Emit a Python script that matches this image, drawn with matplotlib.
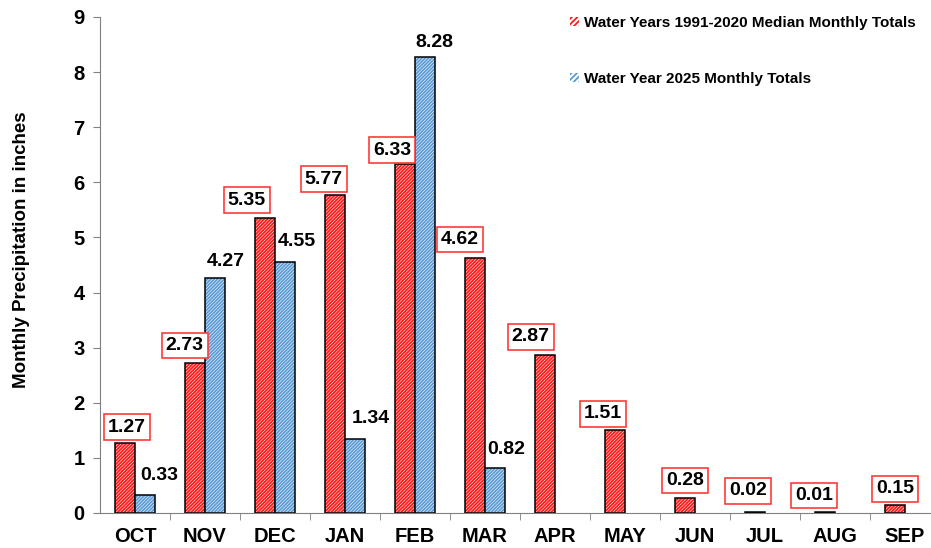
import matplotlib
matplotlib.use("Agg")
import matplotlib.pyplot as plt
import matplotlib.patches as mpatches
import numpy as np

plt.rcParams['font.family'] = ['Liberation Sans', 'DejaVu Sans']
plt.rcParams['font.weight'] = 'bold'
plt.rcParams['hatch.linewidth'] = 1.3

months = ['OCT', 'NOV', 'DEC', 'JAN', 'FEB', 'MAR', 'APR', 'MAY', 'JUN', 'JUL', 'AUG', 'SEP']
median_vals = [1.27, 2.73, 5.35, 5.77, 6.33, 4.62, 2.87, 1.51, 0.28, 0.02, 0.01, 0.15]
wy2025_vals = [0.33, 4.27, 4.55, 1.34, 8.28, 0.82]

median_label = 'Water Years 1991-2020 Median Monthly Totals'
wy2025_label = 'Water Year 2025 Monthly Totals'

# label offsets (pixels) from top of each bar
med_off = [(2, 16), (-10, 17), (-18, 18), (-11, 16), (-13, 14), (-15, 19),
           (-14, 18), (-12, 16), (0, 17), (-7, 21), (-11, 17), (0, 16)]
wy_off = [(14, 19), (11, 16), (12, 21), (16, 21), (9, 14), (11, 18)]

red = '#ff1a1a'
blue = '#5b9bd5'
w = 0.29
hatch = '//////////'

fig = plt.figure(figsize=(9.31, 5.48), dpi=100)
ax = fig.add_axes([100/931, 35/548, 840/931, 496/548])

x = np.arange(len(months))
x2 = np.arange(len(wy2025_vals))

ax.bar(x - w/2, median_vals, w, color='white', edgecolor=red, hatch=hatch, linewidth=0)
ax.bar(x - w/2, median_vals, w, fill=False, edgecolor='black', linewidth=1.1)
ax.bar(x2 + w/2, wy2025_vals, w, color='white', edgecolor=blue, hatch=hatch, linewidth=0)
ax.bar(x2 + w/2, wy2025_vals, w, fill=False, edgecolor='black', linewidth=1.1)

for i, v in enumerate(median_vals):
    ax.annotate(f'{v:.2f}', (x[i] - w/2, v), xytext=med_off[i], textcoords='offset pixels',
                ha='center', va='center', fontsize=14, fontweight='bold',
                bbox=dict(boxstyle='square,pad=0.22', fc='white', ec='#ff3b3b', lw=1.2))
for i, v in enumerate(wy2025_vals):
    ax.annotate(f'{v:.2f}', (x2[i] + w/2, v), xytext=wy_off[i], textcoords='offset pixels',
                ha='center', va='center', fontsize=14, fontweight='bold')

ax.set_xlim(-0.5, len(months) - 0.5)
ax.set_ylim(0, 9)
ax.set_yticks(range(0, 10))
ax.set_xticks(x)
ax.set_xticklabels(months)
ax.set_xticks(np.arange(0.5, len(months), 1), minor=True)
ax.tick_params(axis='x', which='major', length=0, pad=10, labelsize=14.5)
ax.tick_params(axis='x', which='minor', length=5, color='#808080', direction='out')
ax.tick_params(axis='y', length=5, color='#808080', labelsize=14.5, pad=6)
for s in ['top', 'right']:
    ax.spines[s].set_visible(False)
for s in ['left', 'bottom']:
    ax.spines[s].set_color('#808080')
ax.set_ylabel('Monthly Precipitation in inches', fontsize=13.5, fontweight='bold')
ax.yaxis.set_label_coords(-70/840, 0.53)

h1 = mpatches.Patch(facecolor='white', edgecolor=red, hatch='//////', lw=0)
h2 = mpatches.Patch(facecolor='white', edgecolor=blue, hatch='//////', lw=0)
fig.legend([h1, h2], [median_label, wy2025_label], loc='upper left',
           bbox_to_anchor=(556/931, 1 - 2/548), frameon=False,
           handlelength=0.6, handleheight=0.6, handletextpad=0.3,
           labelspacing=2.75, prop={'size': 11, 'weight': 'bold'})

fig.savefig('out.png', dpi=100)
